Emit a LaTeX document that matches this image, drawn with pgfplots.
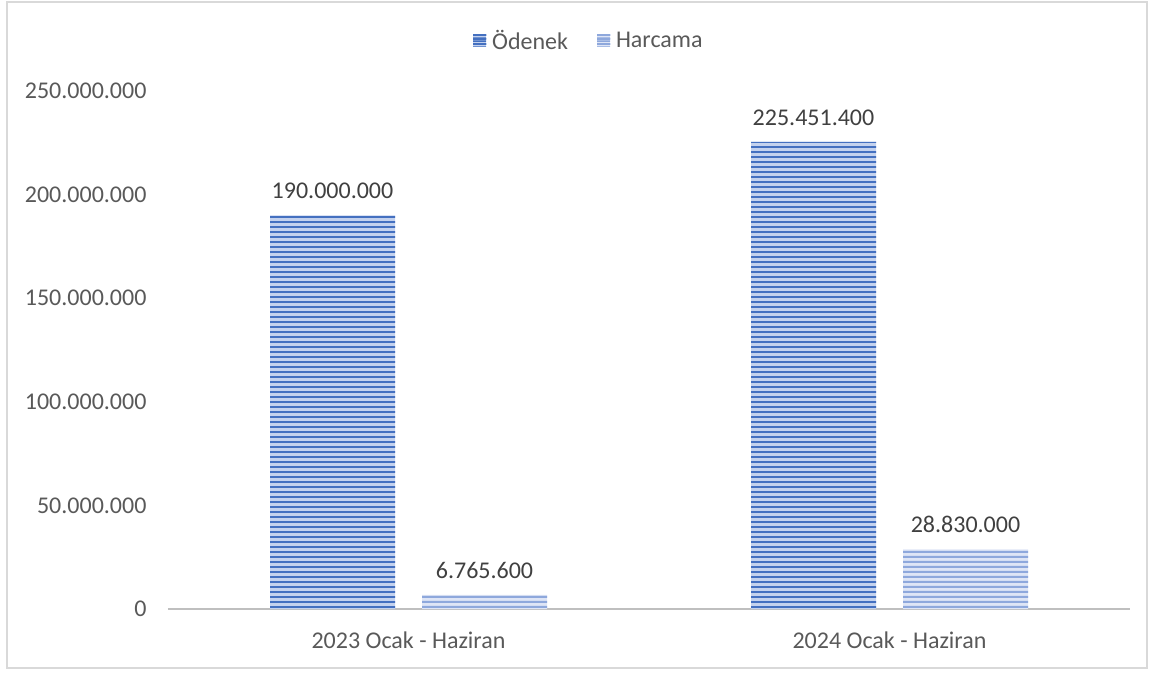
\documentclass[border=0pt]{standalone}
\usepackage{pgfplots}
\pgfplotsset{compat=1.18}
\usepackage{fontspec}
\setmainfont{Carlito}
\usetikzlibrary{patterns.meta}
\tikzdeclarepattern{
  name=hstripes,
  parameters={\pgfkeysvalueof{/pgf/pattern keys/dist},\pgfkeysvalueof{/pgf/pattern keys/lw}},
  bounding box={(0,0) and (1600pt,\pgfkeysvalueof{/pgf/pattern keys/dist})},
  tile size={(1600pt,\pgfkeysvalueof{/pgf/pattern keys/dist})},
  defaults={dist/.initial=4.5pt, lw/.initial=2.2pt},
  code={\pgfpathrectangle{\pgfpointorigin}{\pgfpoint{1600pt}{\pgfkeysvalueof{/pgf/pattern keys/lw}}}\pgfusepath{fill}}
}
\definecolor{darkS}{RGB}{68,112,192}
\definecolor{darkL}{RGB}{196,210,238}
\definecolor{lightS}{RGB}{142,168,220}
\definecolor{lightL}{RGB}{222,229,246}
\definecolor{tickc}{RGB}{89,89,89}
\definecolor{labc}{RGB}{64,64,64}
\definecolor{axc}{RGB}{191,191,191}
\definecolor{framec}{RGB}{217,217,217}
\begin{document}
\begin{tikzpicture}[x=1pt,y=1pt]
\path (-168,-66) rectangle (987,609);
\draw[framec, line width=1.5pt] (-161,-59) rectangle (979,607);
\begin{axis}[
  at={(0,0)}, anchor=south west,
  scale only axis, width=962pt, height=518pt,
  ybar=27pt, bar width=125pt,
  xmin=-0.5, xmax=1.5, ymin=0, ymax=250000000,
  scaled y ticks=false,
  xtick={0,1}, xticklabels={2023 Ocak - Haziran, 2024 Ocak - Haziran},
  ytick={0,50000000,100000000,150000000,200000000,250000000},
  yticklabels={0,50.000.000,100.000.000,150.000.000,200.000.000,250.000.000},
  axis lines*=left,
  y axis line style={draw=none},
  x axis line style={draw=axc, line width=2.5pt},
  major tick length=0pt,
  tick style={draw=none},
  ticklabel style={font=\fontsize{24}{28}\selectfont, text=tickc},
  yticklabel style={xshift=-18pt},
  xticklabel style={yshift=-19pt},
  clip=false,
  point meta=explicit symbolic,
  nodes near coords,
  every node near coord/.append style={font=\fontsize{24}{28}\selectfont, text=labc, yshift=13pt},
  legend style={at={(0.4375,1.098)}, anchor=center, draw=none, fill=none,
    font=\fontsize{24}{28}\selectfont, text=tickc, legend columns=2,
    /tikz/every odd column/.append style={column sep=4pt},
    /tikz/every even column/.append style={column sep=27pt},
    inner sep=0pt},
  legend cell align=left,
]
\addplot[draw=none, fill=darkL, postaction={pattern={hstripes[dist=4.5pt,lw=2.2pt]}, pattern color=darkS},
  legend image code/.code={\fill[darkL] (0pt,-6.5pt) rectangle (13pt,6.5pt);
    \fill[pattern={hstripes[dist=3.3pt,lw=1.8pt]}, pattern color=darkS] (0pt,-6.5pt) rectangle (13pt,6.5pt);}]
  coordinates {(0,190000000) [190.000.000] (1,225451400) [225.451.400]};
\addlegendentry{Ödenek}
\addplot[draw=none, fill=lightL, postaction={pattern={hstripes[dist=4.5pt,lw=2.2pt]}, pattern color=lightS},
  legend image code/.code={\fill[lightL] (0pt,-6.5pt) rectangle (13pt,6.5pt);
    \fill[pattern={hstripes[dist=3.3pt,lw=1.8pt]}, pattern color=lightS] (0pt,-6.5pt) rectangle (13pt,6.5pt);}]
  coordinates {(0,6765600) [6.765.600] (1,28830000) [28.830.000]};
\addlegendentry{Harcama}
\end{axis}
\end{tikzpicture}
\end{document}
